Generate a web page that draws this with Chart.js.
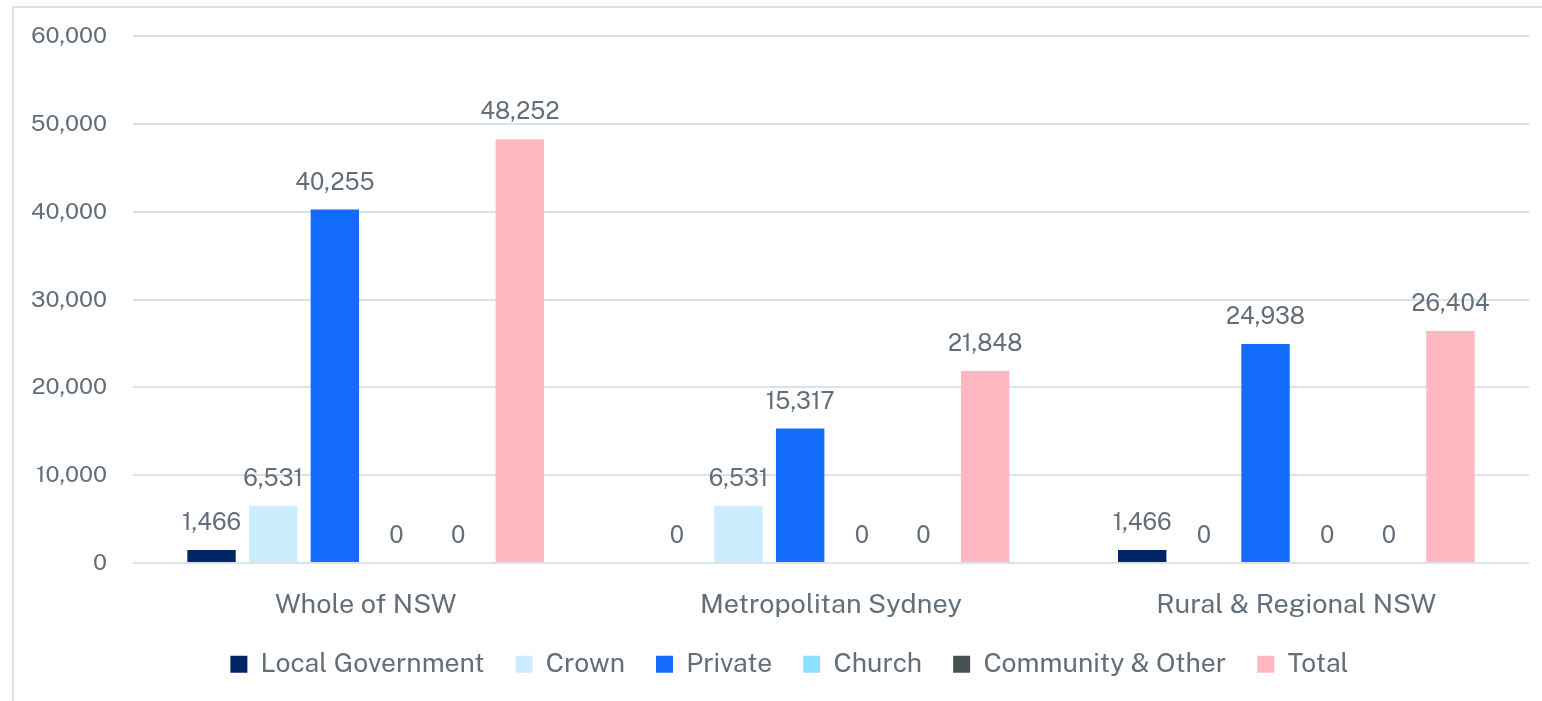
<!DOCTYPE html>
<html>
<head>
<meta charset="utf-8">
<script src="https://cdn.jsdelivr.net/npm/chart.js@4.4.1/dist/chart.umd.min.js"></script>
<style>
  html, body { margin: 0; padding: 0; background: #fff; }
  body { width: 1542px; height: 701px; position: relative; overflow: hidden; }
  #frame {
    position: absolute; left: 12px; top: 6px; width: 1530px; height: 695px;
    border-top: 2px solid #dde1e4; border-left: 2px solid #dde1e4;
    box-sizing: border-box;
  }
  #wrap { position: absolute; left: 0; top: 0; right: 0; bottom: 0; }
</style>
</head>
<body>
<div id="frame"><div id="wrap"><canvas id="chart"></canvas></div></div>
<script>
// --- data ---
const categories = ['Whole of NSW', 'Metropolitan Sydney', 'Rural & Regional NSW'];
const localGovernment = [1466, 0, 1466];
const crown = [6531, 6531, 0];
const privateLand = [40255, 15317, 24938];
const church = [0, 0, 0];
const communityOther = [0, 0, 0];
const total = [48252, 21848, 26404];
const yTicks = [0, 10000, 20000, 30000, 40000, 50000, 60000];

const FONT = "'Public Sans', 'Liberation Sans', Arial, sans-serif";
const TEXT = '#626e79';

// draws the value above every bar, zeros included
const valueLabels = {
  id: 'valueLabels',
  afterDatasetsDraw(chart) {
    const ctx = chart.ctx;
    ctx.save();
    ctx.font = '23.5px ' + FONT;
    ctx.fillStyle = TEXT;
    ctx.textAlign = 'center';
    ctx.textBaseline = 'middle';
    chart.data.datasets.forEach((ds, i) => {
      chart.getDatasetMeta(i).data.forEach((bar, j) => {
        ctx.fillText(ds.data[j].toLocaleString('en-AU'), bar.x, bar.y - 27);
      });
    });
    ctx.restore();
  }
};

// legend in the original sits a little right of centre
const legendShift = {
  id: 'legendShift',
  afterLayout(chart) {
    if (chart.legend) { chart.legend.left += 18; chart.legend.right += 18; }
  }
};

const mk = (label, data, color) => ({ label, data, backgroundColor: color, borderWidth: 0 });

new Chart(document.getElementById('chart'), {
  type: 'bar',
  data: {
    labels: categories,
    datasets: [
      mk('Local Government', localGovernment, '#002664'),
      mk('Crown', crown, '#cbedfd'),
      mk('Private', privateLand, '#146cfd'),
      mk('Church', church, '#8ce0ff'),
      mk('Community & Other', communityOther, '#495054'),
      mk('Total', total, '#ffb8c1')
    ]
  },
  options: {
    responsive: true,
    maintainAspectRatio: false,
    animation: false,
    categoryPercentage: 0.795,
    barPercentage: 0.785,
    layout: { padding: { top: 28, right: 13, bottom: 13.5, left: 0 } },
    plugins: {
      tooltip: { enabled: false },
      legend: {
        position: 'bottom',
        labels: {
          font: { family: FONT, size: 26.5 },
          color: TEXT,
          boxWidth: 17,
          boxHeight: 17,
          padding: 31
        }
      }
    },
    scales: {
      x: {
        afterFit(scale) { scale.height = 57; },
        grid: { display: false, drawTicks: false },
        border: { display: false },
        ticks: { font: { family: FONT, size: 27 }, color: TEXT, padding: 25 }
      },
      y: {
        min: 0,
        max: 60000,
        afterFit(scale) {
          scale.width = 119;
          scale.paddingTop = 0;
          scale.paddingBottom = 0;
        },
        afterBuildTicks(scale) { scale.ticks = yTicks.map(v => ({ value: v })); },
        grid: { color: '#dde2e5', lineWidth: 2, drawTicks: false },
        border: { display: false },
        ticks: {
          font: { family: FONT, size: 23 },
          color: TEXT,
          padding: 26,
          callback: v => v.toLocaleString('en-AU')
        }
      }
    }
  },
  plugins: [valueLabels, legendShift]
});
</script>
</body>
</html>
